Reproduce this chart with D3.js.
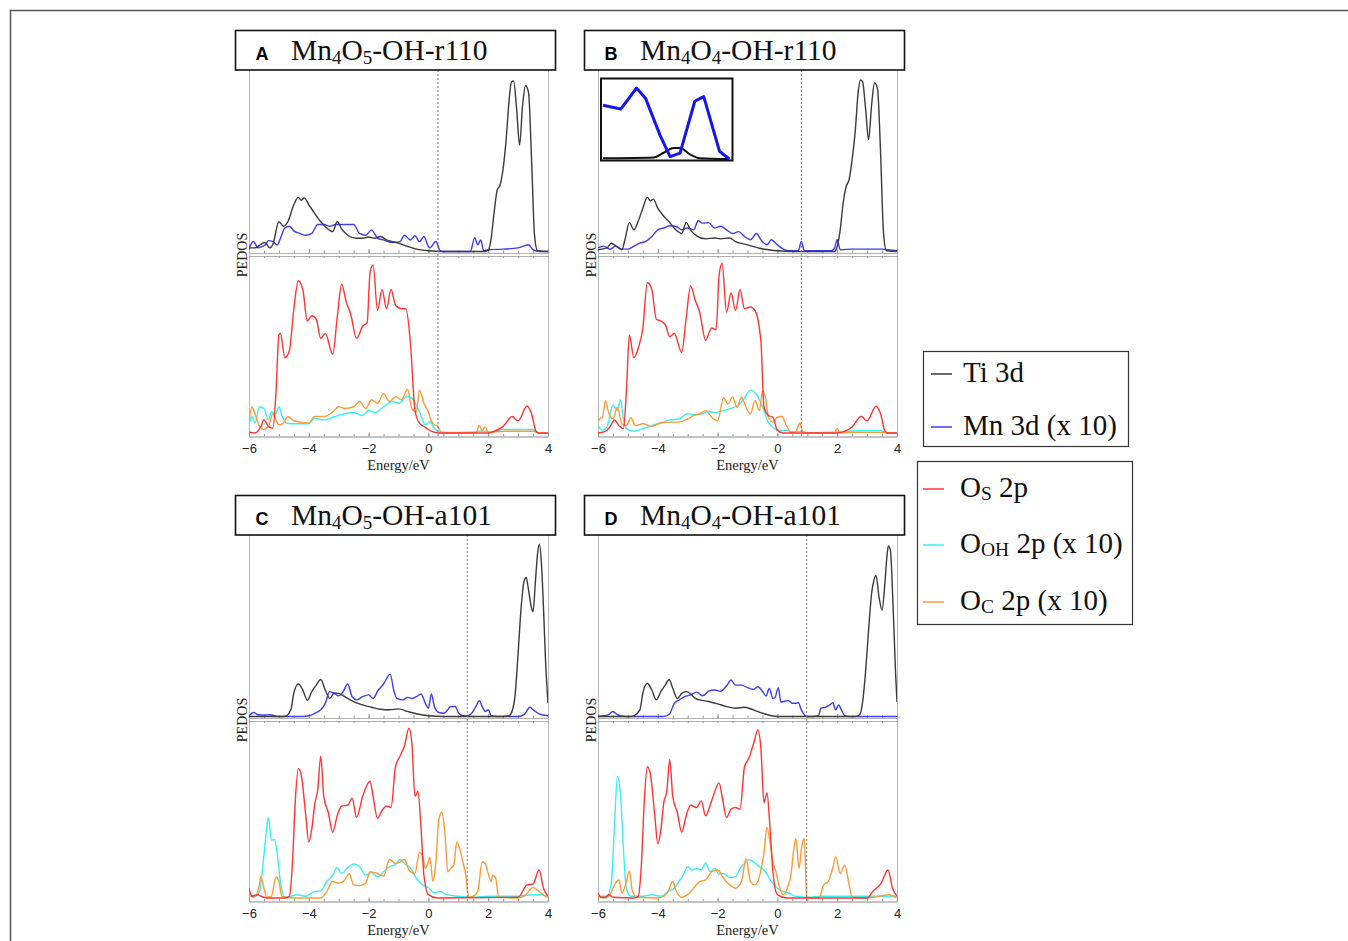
<!DOCTYPE html>
<html>
<head>
<meta charset="utf-8">
<script src="https://cdn.jsdelivr.net/npm/d3@7"></script>
<style>
  body { margin: 0; background: #fff; }
  svg { display: block; }
</style>
</head>
<body>
<svg id="fig" width="1348" height="941"></svg>
<script>
// ---- data (energy in eV, PEDOS in arbitrary units, 0-100 per sub-panel) ----
const energyTicks = [-6, -4, -2, 0, 2, 4];
const panelLetters = ["A", "B", "C", "D"];
const panelTitles = ["Mn_4O_5-OH-r110", "Mn_4O_4-OH-r110", "Mn_4O_5-OH-a101", "Mn_4O_4-OH-a101"];
const fermiLevels = [0.32, 0.8, 1.3, 0.98];
const legendMetal = ["Ti 3d", "Mn 3d (x 10)"];
const legendOxygen = ["O_S 2p", "O_{OH} 2p (x 10)", "O_C 2p (x 10)"];

// panel A
const tiA = [[-6,2],[-5.8,2],[-5.6,4],[-5.47,5],[-5.3,2],[-5.2,4],[-5,16.5],[-4.85,14],[-4.7,16.5],[-4.5,26],[-4.35,30],[-4.25,28.4],[-4.15,29.7],[-4,26],[-3.8,21],[-3.6,16.5],[-3.4,13],[-3.2,11],[-3.05,16.5],[-2.9,12.5],[-2.7,9],[-2.4,7.3],[-2.2,7.3],[-2,8],[-1.8,7.3],[-1.6,8.3],[-1.4,6.4],[-1,4.6],[-0.7,2.8],[-0.4,1.3],[0,0.4],[0.5,0],[1.9,0],[2,0.7],[2.1,7.3],[2.2,22],[2.3,34],[2.4,37],[2.5,46],[2.6,62],[2.7,84],[2.78,94],[2.85,94.5],[2.95,79],[3.05,59],[3.15,81],[3.25,92],[3.35,88],[3.45,51],[3.55,9],[3.65,0.4],[4,0]];
const mnA = [[-6,1.5],[-5.85,5.5],[-5.7,2],[-5.55,2.8],[-5.45,3.7],[-5.35,6],[-5.2,5.5],[-5.05,3.7],[-4.95,7.3],[-4.8,13],[-4.65,14],[-4.5,11.4],[-4.3,10],[-4.1,9],[-3.9,10],[-3.7,15],[-3.5,15],[-3.3,14],[-3.1,15],[-2.8,15],[-2.5,15],[-2.3,10],[-2.1,9],[-1.9,12],[-1.7,7.3],[-1.5,6.4],[-1.2,5],[-0.95,5.5],[-0.8,9],[-0.6,6.4],[-0.45,8.8],[-0.3,5.5],[-0.15,8.3],[0,2.8],[0.05,2],[0.25,5.5],[0.4,0.4],[0.5,0],[1.4,0],[1.55,7.7],[1.65,3.7],[1.75,6.4],[1.85,0.4],[2,1],[2.5,1.3],[3,2],[3.35,3.7],[3.5,1],[3.7,0],[4,0]];
const osA = [[-6,0.4],[-5.8,0],[-5.6,3.8],[-5.5,7.5],[-5.35,3.8],[-5.2,2.8],[-5.1,22.5],[-5,56],[-4.95,57],[-4.8,43],[-4.65,47],[-4.5,71],[-4.35,87],[-4.2,82],[-4.05,64],[-3.9,67],[-3.75,65],[-3.6,54],[-3.45,57],[-3.2,45],[-3.05,66],[-2.9,85],[-2.75,75],[-2.6,68],[-2.4,54],[-2.2,61],[-2.05,63],[-1.95,92],[-1.85,96],[-1.7,70],[-1.55,82],[-1.4,71],[-1.25,82],[-1.1,73],[-0.9,71],[-0.75,71],[-0.6,51],[-0.45,13],[-0.3,5.6],[-0.15,3.8],[0,2],[0.2,0.4],[0.4,0],[2,0],[2.2,1],[2.5,3.8],[2.8,9.4],[3,7],[3.3,15.4],[3.45,11],[3.6,1],[3.7,0],[4,0]];
const ohA = [[-6,4.7],[-5.9,9.4],[-5.8,5.6],[-5.65,15],[-5.5,14],[-5.35,7.5],[-5.25,12],[-5.1,11],[-5,15],[-4.9,10],[-4.75,5.6],[-4.5,5.3],[-4,5.3],[-3.8,8.5],[-3.5,7.5],[-3.2,9],[-3,10],[-2.8,11],[-2.5,11.7],[-2.2,10],[-2,13],[-1.8,11.7],[-1.5,15],[-1.2,18],[-1,17],[-0.7,21],[-0.5,19],[-0.3,12],[-0.1,4.7],[0.05,6.6],[0.2,2.8],[0.4,0.4],[1.5,0.3],[1.7,1],[1.9,1],[2.1,0.5],[2.5,2],[3.5,2],[3.7,0],[4,0]];
const ocA = [[-6,6.6],[-5.9,15],[-5.8,11],[-5.65,3.8],[-5.5,2],[-5.35,3.8],[-5.2,11],[-5.1,7.5],[-5,4.7],[-4.85,5.6],[-4.7,9.4],[-4.5,7],[-4,5.6],[-3.8,9.4],[-3.5,9.4],[-3.2,12],[-3,15],[-2.8,14],[-2.5,15],[-2.3,18],[-2.1,14],[-1.9,19],[-1.7,17],[-1.5,22.5],[-1.3,18],[-1.1,20.7],[-0.9,19],[-0.7,25],[-0.55,14],[-0.4,12],[-0.3,24.4],[-0.15,17],[0,12],[0.08,7.5],[0.2,4.7],[0.3,4.1],[0.45,0],[1.6,0.4],[1.7,4.3],[1.8,1.5],[1.9,3.4],[2,0.4],[2.5,1],[3.5,1],[3.7,0],[4,0]];

// panel B
const tiB = [[-6,1],[-5.7,2],[-5.55,4.6],[-5.4,3],[-5.2,1],[-5.1,6.5],[-4.95,16],[-4.8,12],[-4.65,17],[-4.5,24],[-4.35,30],[-4.25,28],[-4.15,29],[-4,24],[-3.8,19.5],[-3.6,16],[-3.4,12],[-3.2,10],[-3.05,16],[-2.9,11.7],[-2.7,8.7],[-2.4,7],[-2.1,7.5],[-1.9,7],[-1.6,7.5],[-1.4,5.5],[-1,3.7],[-0.6,1.8],[-0.3,1],[0,0.4],[0.5,0],[1.9,0],[2,2.8],[2.1,12],[2.2,27],[2.3,36],[2.4,40],[2.5,51],[2.6,66],[2.7,88],[2.78,95],[2.85,94],[2.95,79],[3.05,62],[3.15,81],[3.25,93.5],[3.35,90],[3.45,55],[3.55,10],[3.65,0.4],[4,0]];
const mnB = [[-6,2],[-5.8,3],[-5.6,1.3],[-5.4,3],[-5.2,1.3],[-5,1.3],[-4.8,3],[-4.6,4.6],[-4.4,5.6],[-4.2,8.3],[-4,12],[-3.8,13],[-3.6,14.3],[-3.4,14],[-3.2,12],[-3,13],[-2.8,12],[-2.65,17],[-2.5,15.7],[-2.3,16],[-2.1,13],[-1.9,14],[-1.7,12],[-1.5,10],[-1.3,11],[-1.1,8.3],[-0.9,6.5],[-0.7,10],[-0.55,6.5],[-0.35,3.7],[-0.2,6.5],[0,3.7],[0.2,1.3],[0.35,0.5],[0.7,0.5],[0.8,5.6],[0.9,0.5],[1,0.4],[1.8,0.4],[1.9,1.5],[2,6.5],[2.1,1],[2.5,1.3],[3.5,1.3],[3.7,1],[4,0.5]];
const osB = [[-6,0],[-5.8,0.6],[-5.6,3.4],[-5.45,7.5],[-5.3,4.3],[-5.15,2.5],[-5.05,24],[-4.95,56],[-4.8,43],[-4.65,48.7],[-4.5,60],[-4.35,86],[-4.2,82],[-4.05,65],[-3.9,64],[-3.75,62],[-3.6,55],[-3.45,57],[-3.2,46],[-3.05,66],[-2.9,84],[-2.75,76],[-2.6,69],[-2.4,53],[-2.2,60],[-2.05,59],[-1.95,90],[-1.85,97],[-1.7,69],[-1.55,80],[-1.4,70],[-1.25,82],[-1.1,71],[-0.9,72],[-0.75,70],[-0.55,52],[-0.45,15],[-0.3,10],[-0.15,9],[0,1.5],[0.2,0],[2,0],[2.2,0.6],[2.5,3.4],[2.8,9.4],[3,7],[3.3,15.3],[3.45,11],[3.6,1],[3.7,0],[4,0]];
const ohB = [[-6,4.3],[-5.85,1.5],[-5.7,3.4],[-5.5,16],[-5.35,13],[-5.25,19],[-5.15,8],[-5.05,2.5],[-4.8,1],[-4.5,2.5],[-4.2,4.3],[-3.9,5.7],[-3.6,7.5],[-3.3,8],[-3,11],[-2.8,10.5],[-2.5,11],[-2.3,12.5],[-2.1,11.5],[-1.9,12.5],[-1.6,13.8],[-1.3,16],[-1.1,20],[-0.9,24.5],[-0.7,22],[-0.5,15],[-0.3,6],[-0.1,2.5],[0.1,1.5],[0.3,1.5],[0.5,0.6],[0.8,1],[1,0],[2,0.6],[3,1.5],[3.4,1.5],[3.7,0],[4,0]];
const ocB = [[-6,6],[-5.95,8],[-5.85,9],[-5.75,18.5],[-5.65,12],[-5.5,8],[-5.35,14.7],[-5.2,5.3],[-5.05,4.3],[-4.9,8.7],[-4.75,4.3],[-4.5,5.3],[-4.2,3.8],[-3.9,5.7],[-3.6,6.2],[-3.3,6.2],[-3,8],[-2.8,10],[-2.6,11],[-2.4,12.8],[-2.2,9],[-2,7],[-1.8,20],[-1.65,16.6],[-1.5,20.8],[-1.35,14.7],[-1.2,20.4],[-1.05,14.7],[-0.9,11],[-0.75,18.5],[-0.6,12.8],[-0.5,24],[-0.4,20.4],[-0.3,9],[-0.15,6.2],[0,9],[0.15,9.4],[0.3,4.3],[0.45,0.6],[0.6,0.4],[0.75,5.7],[0.85,0.6],[1,0],[1.9,0],[2,2.5],[2.1,0],[2.5,0.4],[3.4,0.4],[3.7,0],[4,0]];
// inset of panel B (zoomed Mn 3d / Ti 3d, arbitrary units 0-10 by 0-100)
const insetMn = [[0,69],[1.39,64],[2.62,91],[3.32,78],[4.47,30],[5.24,3],[6.02,7.5],[7.17,74],[7.87,80],[9.1,10],[9.87,0]];
const insetTi = [[0,1],[3.96,2],[4.73,8],[5.5,14],[6.02,14],[6.79,6],[7.56,1],[9.87,0]];

// panel C
const tiC = [[-6,0],[-4.8,0],[-4.6,3.7],[-4.5,13],[-4.35,18],[-4.2,14.7],[-4.05,9],[-3.9,13.8],[-3.75,17.4],[-3.6,20.5],[-3.45,14.7],[-3.3,10],[-3.15,13],[-3,12.8],[-2.8,11],[-2.5,8.3],[-2.2,6.4],[-1.9,5.1],[-1.6,4],[-1.3,3.7],[-1,4.2],[-0.7,2.8],[-0.4,1.5],[0,0.4],[0.5,0],[2.5,0],[2.7,0.4],[2.8,3],[2.9,12],[3,35],[3.1,60],[3.2,75],[3.27,77],[3.35,70],[3.45,60],[3.5,58],[3.58,75],[3.65,90],[3.71,95.4],[3.78,85],[3.85,60],[3.92,30],[4,7.3]];
const mnC = [[-6,0.4],[-5.85,2.2],[-5.7,1],[-5.5,0.8],[-5.3,1],[-5,0],[-4.2,0],[-4,0.4],[-3.8,1.8],[-3.6,3.7],[-3.45,7.3],[-3.3,13.8],[-3.15,12.8],[-3,11.4],[-2.85,13.8],[-2.7,18],[-2.55,11],[-2.4,9.2],[-2.2,11],[-2,12],[-1.85,10],[-1.7,14],[-1.5,18],[-1.28,23.5],[-1.15,14],[-1.05,10],[-0.85,9.2],[-0.7,10.6],[-0.55,10],[-0.4,11],[-0.25,12.5],[-0.1,7.3],[0,4.6],[0.1,12.5],[0.2,5.5],[0.35,2.2],[0.5,1.8],[0.6,2.8],[0.75,5.5],[0.9,5.5],[1,2.2],[1.15,0.4],[1.3,0.4],[1.45,1.8],[1.6,5.9],[1.7,8.8],[1.8,5.5],[1.9,2.8],[2,3.7],[2.1,0.4],[2.3,0],[3,0],[3.2,1],[3.4,5.1],[3.5,3.7],[3.7,1.5],[4,0.4]];
const osC = [[-6,5.6],[-5.9,1],[-5.7,1.9],[-5.6,1],[-5.4,0],[-4.8,0],[-4.65,1],[-4.55,19],[-4.45,56],[-4.35,74],[-4.25,70],[-4.1,47],[-4,32],[-3.9,39.5],[-3.8,53.6],[-3.7,62],[-3.6,81],[-3.5,58],[-3.35,49],[-3.2,37.6],[-3.05,47],[-2.9,52.6],[-2.7,53],[-2.55,57],[-2.4,46],[-2.2,58],[-1.95,66.7],[-1.85,58],[-1.7,45.5],[-1.55,50],[-1.4,52.6],[-1.25,51.7],[-1.1,75],[-0.95,81],[-0.8,87],[-0.65,97],[-0.55,88],[-0.45,58],[-0.35,61],[-0.25,41],[-0.15,13],[0,1.9],[0.3,0],[3,0.4],[3.3,7.5],[3.5,8],[3.7,16],[3.85,5.6],[4,1]];
const ohC = [[-6,1],[-5.8,1],[-5.65,3.8],[-5.5,24.4],[-5.4,41],[-5.35,46],[-5.25,33],[-5.15,33.5],[-5.05,24.4],[-4.95,9.4],[-4.8,0.4],[-4.6,1],[-4.4,1.9],[-4.1,1],[-3.8,3.8],[-3.6,4.1],[-3.4,9.4],[-3.2,13],[-3.05,17.5],[-2.9,14],[-2.7,17.3],[-2.5,19.4],[-2.3,17.9],[-2.1,13],[-1.9,14.5],[-1.7,12],[-1.5,15],[-1.3,17.9],[-1.1,19],[-0.95,22],[-0.8,19.7],[-0.6,17],[-0.4,11.3],[-0.2,7.5],[0,6],[0.2,2.8],[0.4,3.8],[0.6,1.9],[1,1],[1.5,0.4],[2,1],[3,1],[3.5,1.9],[3.8,1.9],[4,1]];
const ocC = [[-6,1.9],[-5.85,0.4],[-5.7,3.8],[-5.6,12],[-5.5,5.6],[-5.4,0.4],[-5.25,1],[-5.1,12],[-5,9.4],[-4.9,1],[-4.5,0],[-3.6,0],[-3.4,3.8],[-3.2,9.4],[-3,8.5],[-2.8,10.3],[-2.65,14],[-2.5,7.5],[-2.3,7.1],[-2.1,8.5],[-1.95,15],[-1.7,14],[-1.5,12.6],[-1.3,22],[-1.1,19.7],[-0.95,20.7],[-0.8,22],[-0.65,16],[-0.45,14],[-0.3,26],[-0.2,24.4],[-0.1,17],[0,20.7],[0.05,23.5],[0.15,9.4],[0.25,20.7],[0.35,45],[0.45,49],[0.55,37.6],[0.65,15],[0.75,17],[0.85,18.8],[0.95,32],[1.05,28],[1.15,20.7],[1.25,13],[1.35,0.4],[1.5,1],[1.65,3.8],[1.8,20.7],[1.9,19.7],[2,14],[2.1,9.4],[2.15,13],[2.25,11.3],[2.35,0.4],[3,0],[3.2,1],[3.5,6],[3.7,3.8],[3.9,1],[4,0.4]];

// panel D
const tiD = [[-6,0],[-4.9,0],[-4.8,0.4],[-4.6,3.7],[-4.5,13],[-4.35,18.3],[-4.2,14.7],[-4.05,9.2],[-3.9,13.8],[-3.75,17.4],[-3.62,20.5],[-3.5,15.6],[-3.35,10],[-3.2,12.8],[-3.05,13.8],[-2.9,12.5],[-2.75,10],[-2.6,9.2],[-2.3,8.3],[-2,7],[-1.7,5.5],[-1.4,4.6],[-1.1,5.1],[-0.8,3.7],[-0.5,1.8],[-0.2,0.4],[0,0],[2.6,0],[2.75,1],[2.85,8],[2.95,25],[3.05,48],[3.15,68],[3.22,75],[3.3,78],[3.4,66],[3.5,59],[3.6,75],[3.66,88],[3.71,94.5],[3.78,92],[3.86,65],[3.95,25],[4,8]];
const mnD = [[-6,0],[-5.8,0.4],[-5.65,1],[-5.5,2.8],[-5.35,1],[-5.1,0],[-3.8,0],[-3.6,1.5],[-3.45,7.3],[-3.3,9],[-3.1,11],[-2.9,12],[-2.7,13.5],[-2.5,11.5],[-2.3,14],[-2.1,14.7],[-1.9,14],[-1.7,17],[-1.55,20.2],[-1.4,17.4],[-1.2,17.4],[-1,16],[-0.8,15],[-0.65,16.5],[-0.5,14],[-0.38,11.4],[-0.27,15.5],[-0.15,10],[-0.08,10.5],[0.03,16],[0.12,8],[0.2,8.3],[0.37,8.8],[0.5,7.3],[0.6,7.3],[0.7,7.6],[0.8,3.7],[0.98,0],[1.2,0],[1.38,0.4],[1.45,4.6],[1.6,5.1],[1.75,6.4],[1.85,7.7],[1.95,3.7],[2.05,6.4],[2.15,3.3],[2.25,0.4],[2.4,0],[4,0]];
const osD = [[-6,2.8],[-5.9,0.4],[-5.75,0.4],[-5.65,1.9],[-5.5,0.4],[-4.8,0],[-4.65,1],[-4.55,19],[-4.45,56],[-4.35,75],[-4.25,71],[-4.1,47],[-4,31],[-3.9,38.5],[-3.8,54.5],[-3.7,61],[-3.6,79],[-3.5,58],[-3.35,49],[-3.2,37.6],[-3.05,47],[-2.9,53],[-2.7,51.7],[-2.55,55.5],[-2.4,47],[-2.2,55.5],[-1.95,65.8],[-1.85,58],[-1.7,46],[-1.55,50.8],[-1.4,51.7],[-1.25,50.8],[-1.1,75],[-0.95,80],[-0.8,88],[-0.65,96],[-0.55,85],[-0.45,54.5],[-0.35,60],[-0.25,41],[-0.15,15],[0,1.9],[0.3,0],[3,0],[3.2,4],[3.45,7.9],[3.7,16],[3.85,5.6],[4,1]];
const ohD = [[-6,1],[-5.7,1],[-5.55,9.4],[-5.45,41],[-5.35,69.5],[-5.25,60],[-5.15,28],[-5.05,5.6],[-4.9,1],[-4.5,1],[-4.2,1.9],[-3.9,1],[-3.65,3.8],[-3.45,5.6],[-3.3,9.4],[-3.15,13],[-3,17.9],[-2.85,16],[-2.7,17],[-2.55,16],[-2.4,20],[-2.25,15],[-2.1,17],[-1.95,13.5],[-1.8,14],[-1.6,11.7],[-1.4,12.2],[-1.25,17],[-1.1,19.7],[-0.95,22],[-0.8,20.7],[-0.6,17.9],[-0.4,15],[-0.2,9.4],[0,5.6],[0.2,3.8],[0.4,2.8],[0.6,1],[1,0.4],[1.5,1],[3.5,1],[3.8,1],[4,0.4]];
const ocD = [[-6,1],[-5.8,0],[-5.6,1.9],[-5.45,7.5],[-5.3,10.3],[-5.2,2.8],[-5.05,9.4],[-4.95,15.4],[-4.85,3.8],[-4.7,0.4],[-4,0],[-3.8,1],[-3.65,3.8],[-3.5,9.4],[-3.4,4.7],[-3.2,0.4],[-3,1.9],[-2.8,5.6],[-2.6,9.4],[-2.4,10.3],[-2.2,15],[-2,16],[-1.8,11.3],[-1.6,7.5],[-1.4,5.6],[-1.2,9.4],[-1.05,22.5],[-0.9,9.4],[-0.75,7.5],[-0.6,12.2],[-0.45,26],[-0.35,40.4],[-0.25,32],[-0.15,20.7],[-0.05,15],[0.05,7.5],[0.2,1.9],[0.35,6.6],[0.45,13],[0.55,28],[0.62,34],[0.72,17],[0.82,30],[0.9,34],[0.98,0.4],[1.2,0],[1.4,0.4],[1.55,7.5],[1.7,9.4],[1.85,17],[1.95,23.5],[2.1,14],[2.25,18.8],[2.4,7.5],[2.5,0.4],[3,0],[3.4,1],[3.7,1.9],[3.9,1],[4,0.4]];

const tiSeries = [tiA, tiB, tiC, tiD];
const mnSeries = [mnA, mnB, mnC, mnD];
const osSeries = [osA, osB, osC, osD];
const ohSeries = [ohA, ohB, ohC, ohD];
const ocSeries = [ocA, ocB, ocC, ocD];

const colors = { ti: "#3a3a3a", mn: "#3d3df2", os: "#ff3434", oh: "#35f2f2", oc: "#ff9a35" };
const serif = "'Liberation Serif', 'Times New Roman', serif";
const sans = "'Liberation Sans', Arial, sans-serif";

const svg = d3.select("#fig");

// outer figure frame (only top and left edges are visible)
svg.append("path")
  .attr("d", "M10.5,941 V10.5 H1348")
  .attr("fill", "none")
  .attr("stroke", "#555")
  .attr("stroke-width", 1.5);

// writes "Mn_4O_5" style strings as tspans with subscripts
function richText(sel, str, size, subSize, shift) {
  const parts = [];
  const re = /_\{([^}]*)\}|_(.)|([^_]+)/g;
  let m;
  while ((m = re.exec(str)) !== null) {
    if (m[1] !== undefined) parts.push({ t: m[1], sub: true });
    else if (m[2] !== undefined) parts.push({ t: m[2], sub: true });
    else parts.push({ t: m[3], sub: false });
  }
  let cur = 0;
  parts.forEach((p) => {
    const target = p.sub ? shift : 0;
    sel.append("tspan")
      .attr("font-size", p.sub ? subSize : size)
      .attr("dy", target - cur)
      .text(p.t);
    cur = target;
  });
}

// panel placement in pixels: left edge of plot, vertical offset
const panelPos = [[249, 0], [598, 0], [249, 465], [598, 465]];

panelPos.forEach(([px, oy], i) => {
  const g = svg.append("g");
  const x = d3.scaleLinear().domain([-6, 4]).range([px, px + 299]);
  const yTop = d3.scaleLinear().domain([0, 100]).range([oy + 251.5, oy + 71]);
  const yBot = d3.scaleLinear().domain([0, 100]).range([oy + 433, oy + 258]);
  const topFrame = oy + 70, midA = oy + 253, midB = oy + 256, axisY = oy + 436.5;

  // clip paths for the two sub panels
  const clipT = `clipT${i}`, clipB = `clipB${i}`;
  const defs = g.append("defs");
  defs.append("clipPath").attr("id", clipT).append("rect")
    .attr("x", px).attr("y", topFrame).attr("width", 299).attr("height", midA - topFrame);
  defs.append("clipPath").attr("id", clipB).append("rect")
    .attr("x", px).attr("y", midB).attr("width", 299).attr("height", axisY - midB);

  // side frame lines
  g.selectAll("line.side").data([px, px + 299]).join("line")
    .attr("x1", (d) => d + 0.5).attr("x2", (d) => d + 0.5)
    .attr("y1", topFrame).attr("y2", axisY)
    .attr("stroke", "#b8b8b8").attr("stroke-width", 1);

  // horizontal frames with inward ticks
  const minorTicks = d3.range(-6, 4.01, 0.5);
  [[midA, false], [midB, null], [axisY, true]].forEach(([yy, labels]) => {
    const ax = g.append("g").attr("transform", `translate(0,${yy})`);
    if (labels === null) {
      ax.call(d3.axisTop(x).tickValues(minorTicks).tickFormat("").tickSizeInner(-2).tickSizeOuter(0));
    } else {
      ax.call(d3.axisBottom(x).tickValues(minorTicks).tickFormat("").tickSizeInner(-2.5).tickSizeOuter(0));
      ax.append("g").call(
        d3.axisBottom(x).tickValues(energyTicks).tickSizeInner(-4).tickSizeOuter(0).tickPadding(7.5)
          .tickFormat(labels ? d3.format("d") : () => "")
      );
    }
    ax.selectAll(".domain").attr("stroke", "#b0b0b0");
    ax.selectAll(".tick line").attr("stroke", "#999");
    ax.selectAll("text").attr("font-family", sans).attr("font-size", 13).attr("fill", "#222");
  });

  const lineT = d3.line().x((d) => x(d[0])).y((d) => yTop(d[1])).curve(d3.curveMonotoneX);
  const lineB = d3.line().x((d) => x(d[0])).y((d) => yBot(d[1])).curve(d3.curveMonotoneX);

  const topG = g.append("g").attr("clip-path", `url(#${clipT})`);
  [[mnSeries[i], colors.mn], [tiSeries[i], colors.ti]].forEach(([data, c]) => {
    topG.append("path").datum(data).attr("d", lineT)
      .attr("fill", "none").attr("stroke", c).attr("stroke-width", 1.4);
  });
  const botG = g.append("g").attr("clip-path", `url(#${clipB})`);
  [[ohSeries[i], colors.oh], [ocSeries[i], colors.oc], [osSeries[i], colors.os]].forEach(([data, c]) => {
    botG.append("path").datum(data).attr("d", lineB)
      .attr("fill", "none").attr("stroke", c).attr("stroke-width", 1.4);
  });

  // Fermi level
  g.append("line")
    .attr("x1", x(fermiLevels[i])).attr("x2", x(fermiLevels[i]))
    .attr("y1", topFrame).attr("y2", axisY)
    .attr("stroke", "#777").attr("stroke-width", 1).attr("stroke-dasharray", "2,2");

  // title box
  g.append("rect")
    .attr("x", px - 14 + 0.5).attr("y", oy + 30.5).attr("width", 320).attr("height", 39.5)
    .attr("fill", "#fff").attr("stroke", "#111").attr("stroke-width", 1.6);
  g.append("text")
    .attr("x", px + 13).attr("y", oy + 60).attr("text-anchor", "middle")
    .attr("font-family", sans).attr("font-weight", "bold").attr("font-size", 18)
    .text(panelLetters[i]);
  const title = g.append("text")
    .attr("x", px + 42).attr("y", oy + 60)
    .attr("font-family", serif).attr("fill", "#111");
  richText(title, panelTitles[i], 29.5, 19, 4);

  // axis titles
  g.append("text")
    .attr("transform", `translate(${px - 2.5},${oy + 255}) rotate(-90)`)
    .attr("text-anchor", "middle")
    .attr("font-family", serif).attr("font-size", 14).attr("fill", "#222")
    .text("PEDOS");
  g.append("text")
    .attr("x", px + 149.5).attr("y", oy + 470).attr("text-anchor", "middle")
    .attr("font-family", serif).attr("font-size", 14.5).attr("fill", "#222")
    .text("Energy/eV");
});

// inset in panel B
{
  const ix = d3.scaleLinear().domain([0, 10]).range([603, 731]);
  const iy = d3.scaleLinear().domain([0, 100]).range([159, 81]);
  const ig = svg.append("g");
  ig.append("rect").attr("x", 601).attr("y", 78.5).attr("width", 131.5).attr("height", 82)
    .attr("fill", "#fff").attr("stroke", "#111").attr("stroke-width", 2);
  ig.append("path").datum(insetTi)
    .attr("d", d3.line().x((d) => ix(d[0])).y((d) => iy(d[1])).curve(d3.curveMonotoneX))
    .attr("fill", "none").attr("stroke", "#111").attr("stroke-width", 2);
  ig.append("path").datum(insetMn)
    .attr("d", d3.line().x((d) => ix(d[0])).y((d) => iy(d[1])))
    .attr("fill", "none").attr("stroke", "#1515f0").attr("stroke-width", 3).attr("stroke-linejoin", "round");
}

// legends
function legend(x0, y0, w, h, labels, cols, rowY, lineX, textX) {
  const lg = svg.append("g");
  lg.append("rect").attr("x", x0 + 0.5).attr("y", y0 + 0.5).attr("width", w).attr("height", h)
    .attr("fill", "#fff").attr("stroke", "#333").attr("stroke-width", 1.2);
  labels.forEach((lab, k) => {
    lg.append("line").attr("x1", lineX).attr("x2", lineX + 21)
      .attr("y1", rowY[k]).attr("y2", rowY[k])
      .attr("stroke", cols[k]).attr("stroke-width", 1.5);
    const t = lg.append("text").attr("x", textX).attr("y", rowY[k] + 8)
      .attr("font-family", serif).attr("fill", "#111");
    richText(t, lab, 29, 19.5, 3);
  });
}
legend(923, 351, 205, 95, legendMetal, [colors.ti, colors.mn], [374, 427], 931, 963);
legend(917, 461, 215, 163, legendOxygen, [colors.os, colors.oh, colors.oc], [489, 545, 602], 923, 960);
</script>
</body>
</html>
